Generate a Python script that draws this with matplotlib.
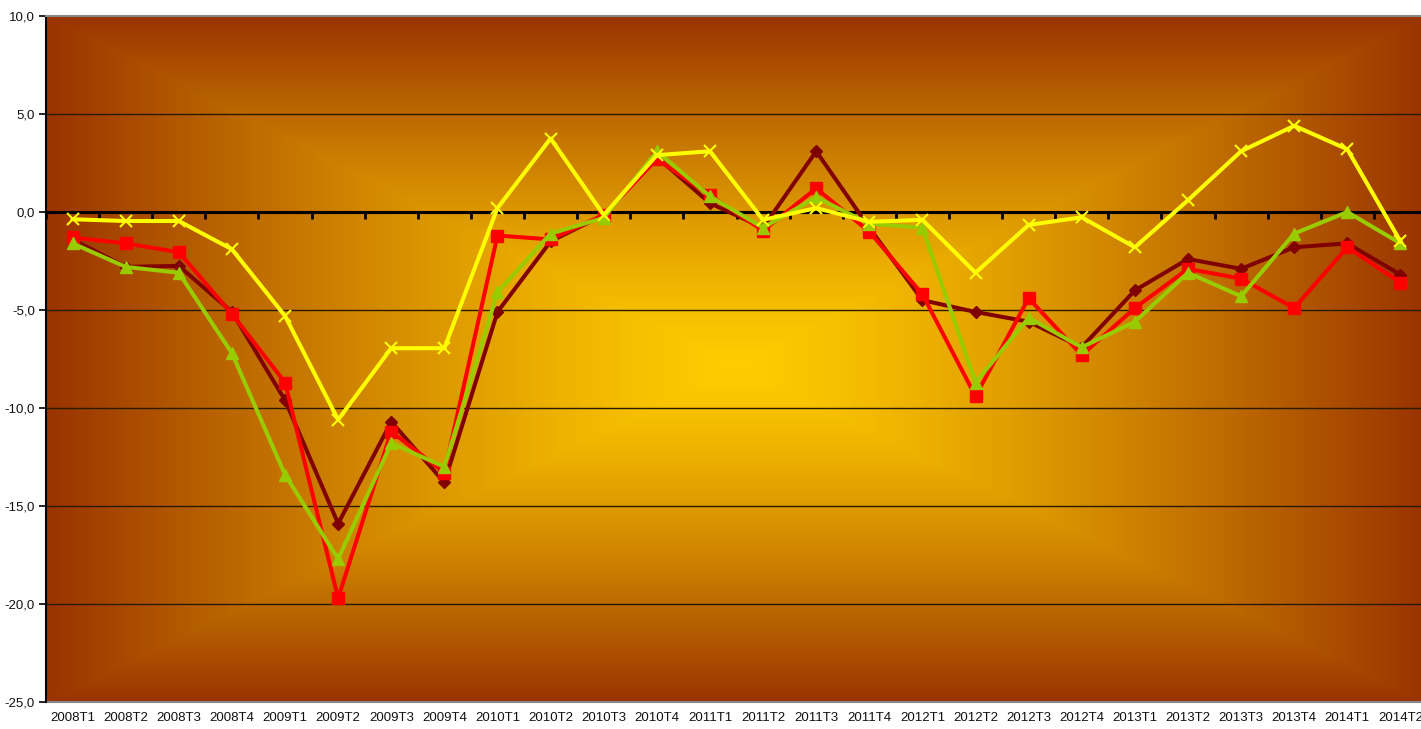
import numpy as np
import matplotlib
matplotlib.use("Agg")
import matplotlib.pyplot as plt
from matplotlib.colors import to_rgb

plt.rcParams['font.family'] = ['Liberation Sans', 'DejaVu Sans']

categories = ["2008T1", "2008T2", "2008T3", "2008T4", "2009T1", "2009T2", "2009T3", "2009T4",
              "2010T1", "2010T2", "2010T3", "2010T4", "2011T1", "2011T2", "2011T3", "2011T4",
              "2012T1", "2012T2", "2012T3", "2012T4", "2013T1", "2013T2", "2013T3", "2013T4",
              "2014T1", "2014T2"]

serie_1 = [-1.4, -2.8, -2.75, -5.1, -9.6, -15.9, -10.7, -13.8,
           -5.1, -1.5, -0.15, 2.8, 0.45, -0.8, 3.1, -0.8,
           -4.5, -5.1, -5.6, -6.9, -4.0, -2.4, -2.9, -1.8,
           -1.6, -3.2]
serie_2 = [-1.3, -1.6, -2.05, -5.2, -8.7, -19.7, -11.2, -13.3,
           -1.2, -1.4, -0.15, 2.7, 0.85, -0.95, 1.2, -1.0,
           -4.2, -9.4, -4.4, -7.3, -4.9, -2.9, -3.4, -4.9,
           -1.8, -3.6]
serie_3 = [-1.6, -2.8, -3.1, -7.2, -13.4, -17.7, -11.8, -13.0,
           -4.1, -1.1, -0.3, 3.1, 0.8, -0.8, 0.75, -0.6,
           -0.8, -8.7, -5.4, -6.9, -5.6, -3.1, -4.3, -1.1,
           0.0, -1.6]
serie_4 = [-0.37, -0.46, -0.46, -1.9, -5.3, -10.6, -6.95, -6.95,
           0.2, 3.75, -0.15, 2.9, 3.1, -0.4, 0.2, -0.5,
           -0.4, -3.1, -0.66, -0.27, -1.8, 0.6, 3.1, 4.4,
           3.2, -1.5]

y_ticks = [-25, -20, -15, -10, -5, 0, 5, 10]

fig = plt.figure(figsize=(14.21, 7.29), dpi=100)
fig.patch.set_facecolor('white')
ax = fig.add_axes([46/1421, 27/729, 1381/1421, 686/729])

x = np.arange(len(categories))
xmin, xmax = -0.5, len(categories) - 0.5
ymin, ymax = -25, 10
ax.set_xlim(xmin, xmax)
ax.set_ylim(ymin, ymax)

# background: rectangular gradient from centre
H, W = 500, 1000
cx, cy = 0.5, 0.51
yy, xx = np.mgrid[0:H, 0:W]
fx = (xx + 0.5) / W
fy = (yy + 0.5) / H
dx = np.where(fx < cx, (cx - fx) / cx, (fx - cx) / (1 - cx))
dy = np.where(fy < cy, (cy - fy) / cy, (fy - cy) / (1 - cy))
t = np.clip(np.maximum(dx, dy), 0, 1) ** 1.3
c_center = np.array(to_rgb('#FFCC00'))
c_edge = np.array(to_rgb('#993300'))
img = c_center[None, None, :] * (1 - t[..., None]) + c_edge[None, None, :] * t[..., None]
ax.imshow(img, extent=[xmin, xmax, ymin, ymax], aspect='auto', zorder=0,
          interpolation='bilinear', origin='upper')

# grid lines
for v in y_ticks:
    if v not in (ymin, ymax, 0):
        ax.axhline(v, color='#2a1a00', lw=1.0, zorder=1)

# zero line with category-boundary ticks
ax.axhline(0, color='black', lw=2.2, zorder=2)
ax.set_xticks(np.arange(len(categories) + 1) - 0.5)
ax.tick_params(axis='x', which='major', length=5, width=2, direction='out', labelbottom=False, color='black')
ax.spines['bottom'].set_position(('data', 0))
ax.spines['bottom'].set_color('black')
ax.spines['bottom'].set_linewidth(2.2)

# category labels at bottom
sec = ax.secondary_xaxis(location=0)
sec.set_xticks(x)
sec.set_xticklabels(categories, fontsize=9.5, color='#111111')
sec.tick_params(axis='x', length=0, pad=7)
sec.spines['bottom'].set_color('#888888')
sec.spines['bottom'].set_linewidth(1.5)

ax.spines['top'].set_color('#888888')
ax.spines['top'].set_linewidth(1.5)
ax.spines['right'].set_visible(False)
ax.spines['left'].set_color('black')
ax.spines['left'].set_linewidth(1.5)

ax.set_yticks(y_ticks)
ax.set_yticklabels([f"{v:.1f}".replace('.', ',') for v in y_ticks], fontsize=9.5, color='#111111')
ax.tick_params(axis='y', length=5, width=1.2, direction='out', pad=3)

lw = 2.9
ax.plot(x, serie_1, color='#800000', lw=lw, marker='D', ms=6.5, zorder=4)
ax.plot(x, serie_2, color='#FF0000', lw=lw, marker='s', ms=8.5, zorder=5)
ax.plot(x, serie_3, color='#99CC00', lw=lw, marker='^', ms=9, zorder=6)
ax.plot(x, serie_4, color='#FFFF00', lw=lw, marker='x', ms=9, mew=1.5, zorder=7)

fig.savefig('out.png', dpi=100, facecolor='white')
